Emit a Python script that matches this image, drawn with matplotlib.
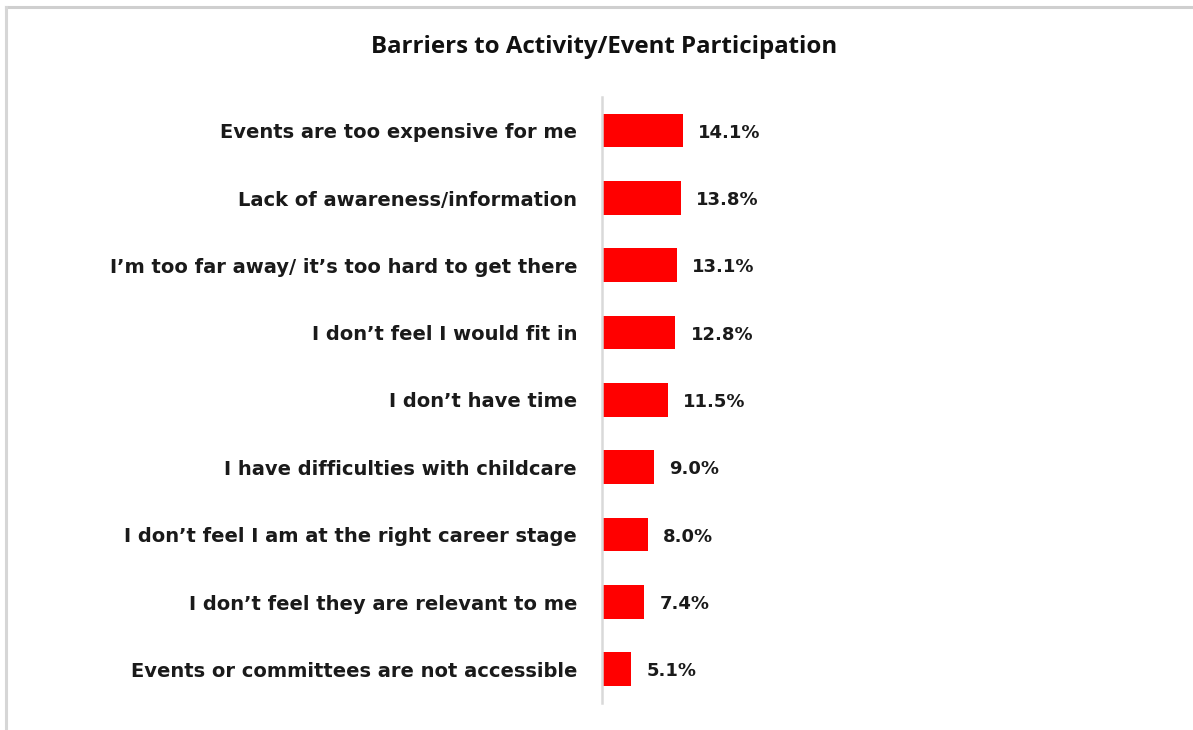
import matplotlib.pyplot as plt
from matplotlib.lines import Line2D

barriers = [
    "Events are too expensive for me",
    "Lack of awareness/information",
    "I\u2019m too far away/ it\u2019s too hard to get there",
    "I don\u2019t feel I would fit in",
    "I don\u2019t have time",
    "I have difficulties with childcare",
    "I don\u2019t feel I am at the right career stage",
    "I don\u2019t feel they are relevant to me",
    "Events or committees are not accessible",
]
shares = [14.1, 13.8, 13.1, 12.8, 11.5, 9.0, 8.0, 7.4, 5.1]

W, H = 1193, 730
fig = plt.figure(figsize=(W / 100, H / 100), dpi=100)
fig.patch.set_facecolor('white')

# axes placed in pixel terms: axis line at x=602, from y=97 to y=703
left, right = 602, 1100
top, bottom = 97, 703
ax = fig.add_axes([left / W, 1 - bottom / H, (right - left) / W, (bottom - top) / H])

ypos = list(range(len(barriers)))
ax.barh(ypos, shares, height=0.5, color='#ff0000', zorder=2)
ax.set_ylim(len(barriers) - 0.5, -0.5)
px_per_pct = 5.74
ax.set_xlim(0, (right - left) / px_per_pct)

for y, v in zip(ypos, shares):
    ax.annotate(f"{v:.1f}%", (v, y), xytext=(15, 0), textcoords='offset pixels',
                va='center_baseline', ha='left', fontsize=13, fontweight='bold',
                color='#1a1a1a', family='DejaVu Sans')

ax.set_yticks(ypos)
ax.set_yticklabels(barriers, fontsize=14, fontweight='bold', color='#1a1a1a',
                   family='DejaVu Sans', va='center_baseline')
ax.tick_params(axis='y', length=0, pad=18)
ax.set_xticks([])
for s in ['top', 'right', 'bottom']:
    ax.spines[s].set_visible(False)
ax.spines['left'].set_color('#d9d9d9')
ax.spines['left'].set_linewidth(1.8)

fig.text(604 / W, 1 - 47 / H, "Barriers to Activity/Event Participation",
         ha='center', va='center', fontsize=17.3, fontweight='bold',
         family='Open Sans', color='#111111')

# frame edges
fig.add_artist(Line2D([6 / W, 1], [1 - 7 / H, 1 - 7 / H], color='#cfcfcf', lw=2.2,
                      transform=fig.transFigure))
fig.add_artist(Line2D([6 / W, 6 / W], [0, 1 - 7 / H], color='#d6d6d6', lw=2.2,
                      transform=fig.transFigure))

fig.savefig('out.png', dpi=100)
